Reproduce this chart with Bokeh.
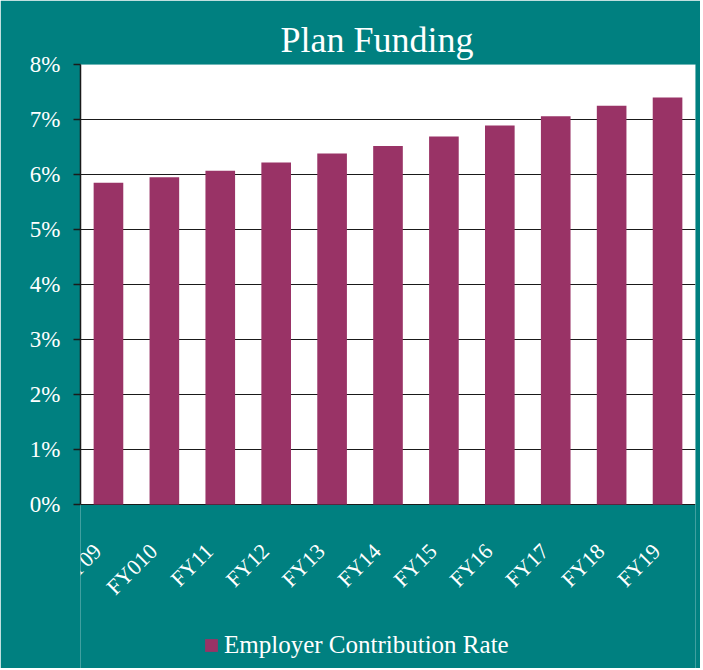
from bokeh.plotting import figure
from bokeh.models import (ColumnDataSource, Legend, LegendItem, FixedTicker,
                          PrintfTickFormatter, Range1d, BoxAnnotation)
from bokeh.core.properties import value
from bokeh.embed import file_html
from bokeh.resources import INLINE
import math

categories = ["FY09", "FY010", "FY11", "FY12", "FY13", "FY14", "FY15",
              "FY16", "FY17", "FY18", "FY19"]
employer_rate = [5.85, 5.95, 6.07, 6.22, 6.38, 6.52, 6.69, 6.89, 7.06, 7.25, 7.40]
y_ticks = [0, 1, 2, 3, 4, 5, 6, 7, 8]
series_name = "Employer Contribution Rate"
title_text = "Plan Funding"

TEAL = "#008080"
BAR = "#993366"
FONT = "Liberation Serif"

# layout constants (pixels)
PX_PER_UNIT = 55.0
BELOW_PX = 164.0
y_low = -BELOW_PX / PX_PER_UNIT
label_y = -43.0 / PX_PER_UNIT

src = ColumnDataSource(dict(cat=categories, val=employer_rate))
lab_src = ColumnDataSource(dict(cat=categories, ly=[label_y] * len(categories)))

p = figure(x_range=categories, y_range=Range1d(y_low, 8),
           frame_width=615, frame_height=604,
           output_backend="svg", toolbar_location=None,
           min_border_left=80, min_border_right=5, min_border_top=64,
           min_border_bottom=0)
p.background_fill_color = TEAL
p.border_fill_color = TEAL
p.outline_line_color = None

# white plotting area from 0% to 8%
p.add_layout(BoxAnnotation(bottom=0, top=8, fill_color="white", fill_alpha=1,
                           line_color=None, level="image"))

r = p.vbar(x="cat", top="val", width=0.53, source=src, fill_color=BAR,
           line_color=None)

p.title.text = title_text
p.title.text_font = FONT
p.title.text_font_size = "36px"
p.title.text_font_style = "normal"
p.title.text_color = "white"
p.title.align = "left"
p.title.offset = 200
p.title.standoff = 10

p.xgrid.grid_line_color = None
p.ygrid.grid_line_color = "#1a1a1a"
p.ygrid.grid_line_width = 1.2
p.ygrid.ticker = FixedTicker(ticks=y_ticks)

ya = p.yaxis[0]
ya.ticker = FixedTicker(ticks=y_ticks)
ya.bounds = (0, 8)
ya.formatter = PrintfTickFormatter(format="%d%%")
ya.major_label_text_font = FONT
ya.major_label_text_font_size = "23px"
ya.major_label_text_color = "white"
ya.axis_line_color = "#1a1a1a"
ya.axis_line_width = 1.5
ya.major_tick_line_color = "#1a1a1a"
ya.major_tick_line_width = 1.5
ya.major_tick_out = 7
ya.major_tick_in = 0
ya.minor_tick_line_color = None
ya.major_label_standoff = 13

p.xaxis.visible = False

# rotated category labels under the bars
p.text(x="cat", y="ly", text="cat", source=lab_src, angle=math.pi / 4,
       x_offset=-11, text_align="right", text_baseline="middle",
       text_font=value(FONT), text_font_size=value("22px"), text_color="white")

legend = Legend(items=[LegendItem(label=series_name, renderers=[r])],
                orientation="horizontal", location=(123, 9),
                background_fill_alpha=0, border_line_color=None,
                label_text_font=FONT, label_text_font_size="25px",
                label_text_color="white", glyph_width=16, glyph_height=16,
                label_standoff=5, margin=0, padding=4)
p.add_layout(legend, "center")

open("out.html", "w").write(file_html(p, INLINE))
